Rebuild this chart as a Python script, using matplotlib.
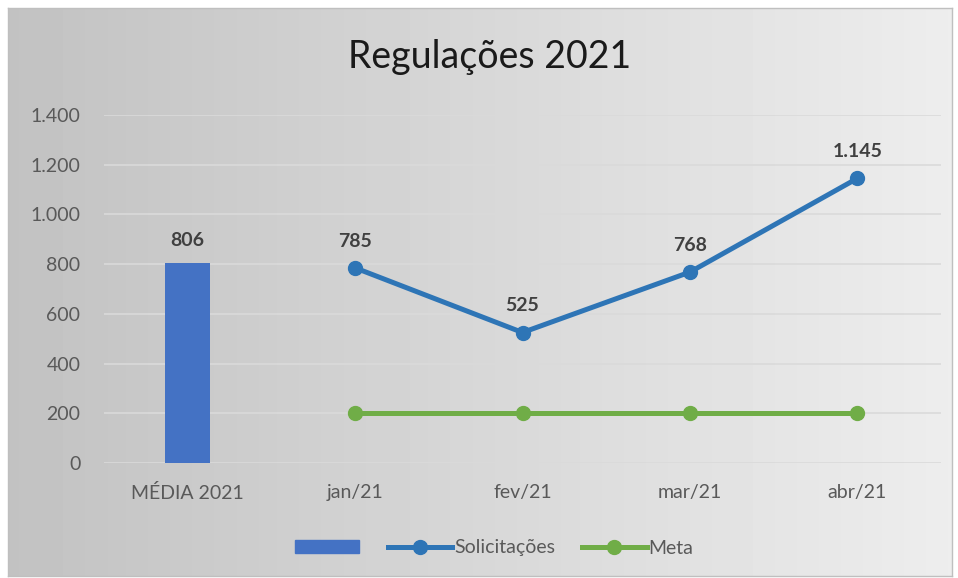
import numpy as np
import matplotlib.pyplot as plt
from matplotlib.lines import Line2D
from matplotlib.patches import Patch

plt.rcParams['font.family'] = ['Lato', 'DejaVu Sans']

# Data
categories = ['MÉDIA 2021', 'jan/21', 'fev/21', 'mar/21', 'abr/21']
media = [806]
solicitacoes = [785, 525, 768, 1145]
meta = [200, 200, 200, 200]
yticks = [0, 200, 400, 600, 800, 1000, 1200, 1400]

def fmt(v):
    return f'{v:,}'.replace(',', '.')

fig = plt.figure(figsize=(9.58, 5.78), dpi=100)

# gradient background of the chart box
bg = fig.add_axes([8/958, 2/578, 944/958, 568/578], zorder=0)
grad = np.linspace(0.76, 0.93, 256).reshape(1, -1)
bg.imshow(grad, cmap='gray', vmin=0, vmax=1, aspect='auto', extent=[0, 1, 0, 1])
bg.set_xticks([]); bg.set_yticks([])
for s in bg.spines.values():
    s.set_color('#bfbfbf'); s.set_linewidth(1)

ax = fig.add_axes([104/958, (578-463)/578, (941-104)/958, (463-115)/578], zorder=1)
ax.patch.set_alpha(0)
x = np.arange(len(categories))

ax.bar(x[:1], media, width=0.27, color='#4472c4', zorder=3)
ax.plot(x[1:], solicitacoes, color='#2e75b6', lw=3.6, marker='o', ms=10, zorder=4)
ax.plot(x[1:], meta, color='#70ad47', lw=3.6, marker='o', ms=10, zorder=4)

for xi, v in zip(x[:1], media):
    ax.annotate(fmt(v), (xi, v), xytext=(0, 10), textcoords='offset points', ha='center',
                va='bottom', fontsize=14, fontweight='bold', color='#404040', annotation_clip=False)
for xi, v in zip(x[1:], solicitacoes):
    ax.annotate(fmt(v), (xi, v), xytext=(0, 13), textcoords='offset points', ha='center',
                va='bottom', fontsize=14, fontweight='bold', color='#404040', annotation_clip=False)

ax.set_xlim(-0.5, len(categories) - 0.5)
ax.set_ylim(0, 1400)
ax.set_yticks(yticks)
ax.set_yticklabels([fmt(t) for t in yticks])
ax.set_xticks(x)
ax.set_xticklabels(categories)
ax.tick_params(length=0, labelsize=14, colors='#595959')
ax.tick_params(axis='x', pad=15)
ax.tick_params(axis='y', pad=17)
ax.grid(axis='y', color='#dadada', lw=1.2, zorder=0)
for s in ax.spines.values():
    s.set_visible(False)

fig.text(490/958, 1 - 57/578, 'Regulações 2021', ha='center', va='center',
         fontsize=27, color='#1a1a1a')

handles = [Patch(color='#4472c4'),
           Line2D([], [], color='#2e75b6', lw=3.6, marker='o', ms=10),
           Line2D([], [], color='#70ad47', lw=3.6, marker='o', ms=10)]
fig.legend(handles, ['', 'Solicitações', 'Meta'], loc='center', bbox_to_anchor=(494/958, 1 - 548/578),
           ncol=3, frameon=False, fontsize=14, labelcolor='#595959', handlelength=3.3,
           handleheight=0.6, handletextpad=0.1, columnspacing=1.4)

fig.savefig('out.png', dpi=100)
